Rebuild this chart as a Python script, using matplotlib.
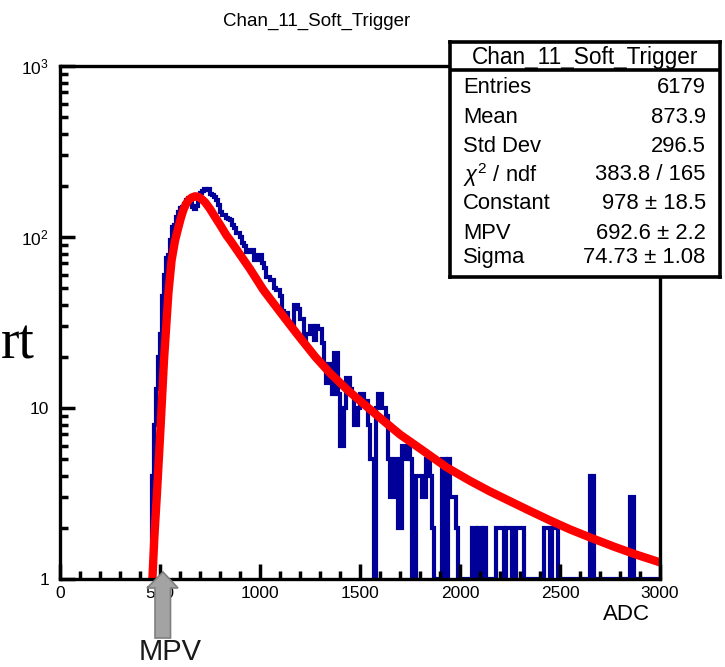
import numpy as np
import matplotlib
matplotlib.use('Agg')
import matplotlib.pyplot as plt
from matplotlib.patches import Polygon
from matplotlib.ticker import MultipleLocator, LogLocator, NullFormatter

plt.rcParams['font.family'] = ['Liberation Sans', 'DejaVu Sans']
plt.rcParams['mathtext.fontset'] = 'custom'
plt.rcParams['mathtext.rm'] = 'Liberation Sans'
plt.rcParams['mathtext.it'] = 'Liberation Sans:italic'

# histogram: 10 ADC bins starting at 450
bin_start = 450
bin_width = 10
counts = [
    1, 4, 8, 13, 20, 27, 45, 60, 75, 78,          # 450
    96, 114, 118, 131, 140, 147, 150, 155, 165, 170,  # 550
    168, 150, 145, 152, 175, 182, 186, 190, 188, 192,  # 650
    178, 176, 172, 165, 154, 140, 134, 134, 130, 128,  # 750
    125, 118, 113, 105, 105, 100, 92, 88, 82, 82,      # 850
    84, 84, 73, 73, 79, 79, 70, 66, 58, 58,            # 950
    56, 56, 50, 49, 49, 45, 37, 36, 36, 31,            # 1050
    31, 31, 40, 40, 38, 33, 33, 25, 27, 27,            # 1150
    30, 30, 25, 30, 29, 29, 24, 18, 14, 18,            # 1250
    16, 12, 21, 21, 12, 6, 6, 10, 15, 15,              # 1350
    13, 12, 8, 8, 10, 12, 12, 11, 11, 8,               # 1450
    5, 5, 0, 10, 12, 12, 10, 10, 9, 5,                 # 1550
    3, 3, 5, 5, 2, 2, 6, 6, 5, 6,                      # 1650
    5, 0, 1, 4, 4, 4, 3, 3, 5, 5,                      # 1750
    4, 2, 1, 0, 1, 1, 5, 5, 1, 5,                      # 1850
    3, 3, 3, 2, 1, 1, 0, 1, 1, 0,                      # 1950
    1, 2, 2, 1, 2, 2, 1, 2, 1, 0,                      # 2050
    1, 0, 1, 2, 2, 2, 2, 1, 2, 2,                      # 2150
    2, 1, 1, 2, 2, 2, 2, 1, 1, 0,                      # 2250
    1, 0, 1, 0, 1, 0, 1, 2, 2, 2,                      # 2350
    1, 2, 2, 2, 1, 0, 1, 0, 1, 0,                      # 2450
    1, 0, 0, 1, 0, 1, 0, 1, 0, 1,                      # 2550
    4, 4, 1, 0, 1, 0, 0, 1, 0, 1,                      # 2650
    1, 0, 1, 0, 0, 1, 0, 1, 0, 1,                      # 2750
    3, 3, 0, 1, 0, 0, 1, 0, 1, 0,                      # 2850
    1, 0, 1, 0, 0,                                     # 2950
]

# Landau fit curve
fit_x = [462, 472, 485, 503, 520, 542, 558, 575, 592, 605, 617, 630, 645, 658,
         675, 690, 705, 725, 750, 775, 800, 833, 850, 900, 950, 1017, 1100,
         1183, 1275, 1350, 1442, 1525, 1608, 1700, 1800, 1933, 2050, 2150,
         2250, 2350, 2450, 2550, 2650, 2767, 2880, 2983, 3000]
fit_y = [1.0, 1.77, 3.2, 7.8, 19, 47, 73, 95, 114, 130, 144, 156, 165, 170,
         173, 172, 168, 160, 146, 131, 118, 102, 96, 79, 65, 49, 36.5,
         27.3, 20, 16, 12.6, 10.4, 8.6, 7.0, 5.8, 4.5, 3.75, 3.25,
         2.85, 2.5, 2.2, 1.95, 1.75, 1.55, 1.39, 1.27, 1.25]

stat_names = ['Entries', 'Mean', 'Std Dev', r'$\chi^{2}$ / ndf', 'Constant', 'MPV', 'Sigma']
stat_values = ['6179', '873.9', '296.5', '383.8 / 165', '978 \u00b1 18.5',
               '692.6 \u00b1 2.2', '74.73 \u00b1 1.08']

W, H = 725, 667
def fx(px): return px / W
def fy(py): return 1 - py / H

fig = plt.figure(figsize=(W / 100, H / 100), dpi=100)
ax = fig.add_axes([fx(60), fy(579), 600 / W, 513 / H])

edges = np.arange(bin_start, bin_start + bin_width * len(counts) + 1, bin_width)
ax.stairs(np.clip(counts, 1, None), edges, color='#000099', lw=3.0, baseline=None)
ax.plot(fit_x, fit_y, color='#ff0000', lw=6, solid_capstyle='butt', solid_joinstyle='round')

ax.set_xlim(0, 3000)
ax.set_yscale('log')
ax.set_ylim(1, 1000)
ax.set_xticks(range(0, 3001, 500))
ax.xaxis.set_minor_locator(MultipleLocator(100))
ax.set_yticks([1, 10, 100, 1000])
ax.set_yticklabels(['1', '10', '$10^{2}$', '$10^{3}$'])
ax.yaxis.set_minor_locator(LogLocator(subs=range(2, 10)))
ax.yaxis.set_minor_formatter(NullFormatter())
ax.tick_params(which='major', direction='in', length=11, width=2.5, labelsize=12.5,
               top=False, right=False, pad=5)
ax.tick_params(axis='y', which='major', pad=8)
ax.tick_params(which='minor', direction='in', length=5.5, width=2.5, top=False, right=False)
for s in ax.spines.values():
    s.set_linewidth(2.4)

fig.text(fx(317), fy(21), 'Chan_11_Soft_Trigger', fontsize=13.5, ha='center', va='center')
fig.text(fx(626), fy(614), 'ADC', fontsize=16, ha='center', va='center')

# stat box
bx = fig.add_axes([fx(450), fy(277), 270 / W, 235 / H])
bx.set_xlim(0, 1)
bx.set_ylim(0, 1)
bx.set_xticks([])
bx.set_yticks([])
for s in bx.spines.values():
    s.set_linewidth(2.6)
bx.axhline(0.881, color='k', lw=2.6)
bx.text(0.5, 0.932, 'Chan_11_Soft_Trigger', fontsize=16.3, ha='center', va='center')
row_px = [87.5, 117.5, 146, 175, 204, 234, 258]
for name, val, py in zip(stat_names, stat_values, row_px):
    yy = (277 - py) / 235
    bx.text(0.048, yy, name, fontsize=15.8, ha='left', va='center')
    bx.text(0.947, yy, val, fontsize=15.8, ha='right', va='center')

# MPV arrow and leftover slide text
arrow_px = [(163, 572), (178, 588), (170.5, 588), (170.5, 638), (155, 638), (155, 588), (147, 588)]
fig.add_artist(Polygon([(fx(x), fy(y)) for x, y in arrow_px], closed=True,
                       facecolor='#a3a3a3', edgecolor='#7f7f7f', lw=1.2,
                       transform=fig.transFigure, zorder=5))
fig.text(fx(170), fy(652), 'MPV', fontsize=21, ha='center', va='center', color='#1a1a1a')
fig.text(fx(1), fy(358), 'rt', fontsize=40, ha='left', va='baseline', family='Liberation Serif')

fig.savefig('out.png', dpi=100)
